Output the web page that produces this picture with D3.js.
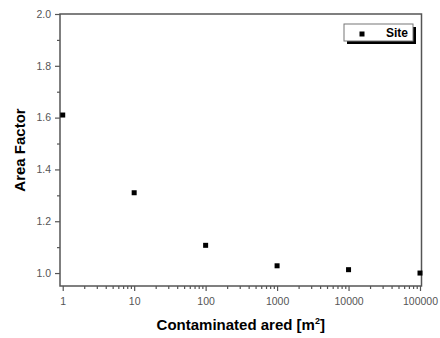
<!DOCTYPE html>
<html><head><meta charset="utf-8">
<script src="https://cdn.jsdelivr.net/npm/d3@7"></script>
<style>body{margin:0;background:#fff}svg{display:block}</style>
</head><body>
<script>
const areas = [1, 10, 100, 1000, 10000, 100000];
const factors = [1.61, 1.31, 1.107, 1.028, 1.013, 1.0];
const xTickLabels = ["1", "10", "100", "1000", "10000", "100000"];
const yTickValues = [1.0, 1.2, 1.4, 1.6, 1.8, 2.0];
const yMinorValues = [1.1, 1.3, 1.5, 1.7, 1.9];
const seriesName = "Site";

const W = 440, H = 338;
const L = 60, R = 421.5, T = 14, B = 286;
const svg = d3.select("body").append("svg").attr("width", W).attr("height", H);
const x = d3.scaleLog().domain([Math.pow(10, -0.038), Math.pow(10, 5.021)]).range([L, R]);
const y = d3.scaleLinear().domain([0.95, 2.0]).range([B, T]);
const axisColor = "#555";
const font = "Arial, 'Liberation Sans', sans-serif";

const xMinor = [];
for (let d = 0; d < 5; d++) for (let k = 2; k <= 9; k++) xMinor.push(k * Math.pow(10, d));

svg.append("g").attr("transform", `translate(0,${B})`)
  .call(d3.axisBottom(x).tickValues(areas).tickFormat((d, i) => xTickLabels[i]).tickSize(5).tickPadding(7));
svg.append("g").attr("transform", `translate(0,${B})`)
  .call(d3.axisBottom(x).tickValues(xMinor).tickFormat("").tickSize(3))
  .call(g => g.select(".domain").remove());
svg.append("g").attr("transform", `translate(${L},0)`)
  .call(d3.axisLeft(y).tickValues(yTickValues).tickFormat(d3.format(".1f")).tickSize(5).tickPadding(4));
svg.append("g").attr("transform", `translate(${L},0)`)
  .call(d3.axisLeft(y).tickValues(yMinorValues).tickFormat("").tickSize(3))
  .call(g => g.select(".domain").remove());

svg.selectAll(".domain").remove();
svg.selectAll(".tick line").attr("stroke", axisColor).attr("stroke-width", 1.2);
svg.selectAll(".tick text").attr("fill", "#555").style("font-family", font).style("font-size", "10.5px");

svg.append("rect").attr("x", L).attr("y", T).attr("width", R - L).attr("height", B - T)
  .attr("fill", "none").attr("stroke", axisColor).attr("stroke-width", 1.5);

svg.selectAll("rect.pt").data(areas).enter().append("rect").attr("class", "pt")
  .attr("x", (d) => x(d) - 2.5).attr("y", (d, i) => y(factors[i]) - 2.5)
  .attr("width", 5).attr("height", 5).attr("fill", "#000");

svg.append("text").attr("x", (L + R) / 2).attr("y", 330).attr("text-anchor", "middle")
  .style("font-family", font).style("font-weight", "bold").style("font-size", "15px")
  .html('Contaminated ared [m<tspan dy="-6" font-size="9px">2</tspan><tspan dy="6">]</tspan>');
svg.append("text").attr("transform", `translate(25,${(T + B) / 2}) rotate(-90)`).attr("text-anchor", "middle")
  .style("font-family", font).style("font-weight", "bold").style("font-size", "15px")
  .text("Area Factor");

const lg = svg.append("g");
lg.append("rect").attr("x", 347).attr("y", 27).attr("width", 69).attr("height", 17).attr("fill", "#000");
lg.append("rect").attr("x", 344).attr("y", 24).attr("width", 69).attr("height", 17)
  .attr("fill", "#fff").attr("stroke", "#777").attr("stroke-width", 1);
lg.append("rect").attr("x", 359.5).attr("y", 31.5).attr("width", 5).attr("height", 5).attr("fill", "#000");
lg.append("text").attr("x", 408).attr("y", 37).attr("text-anchor", "end")
  .style("font-family", font).style("font-weight", "bold").style("font-size", "12px").text(seriesName);
</script>
</body></html>
